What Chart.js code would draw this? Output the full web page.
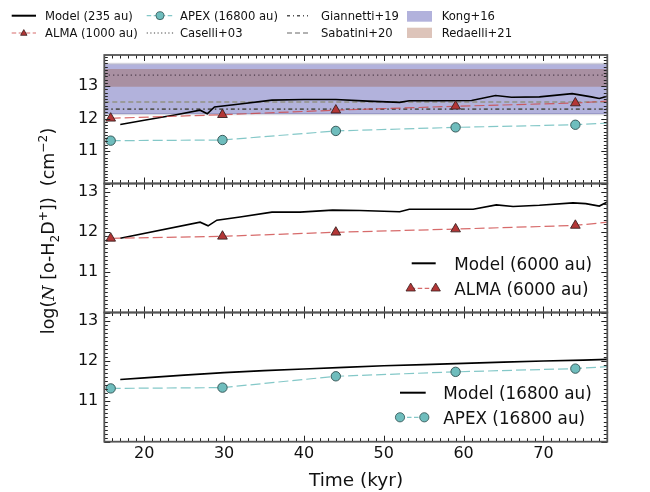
<!DOCTYPE html>
<html>
<head>
<meta charset="utf-8">
<script src="https://cdn.jsdelivr.net/npm/chart.js@4.4.1/dist/chart.umd.min.js"></script>
<style>
  html, body { margin: 0; padding: 0; background: #fff; }
  body { width: 650px; height: 492px; overflow: hidden; position: relative; font-family: "DejaVu Sans", sans-serif; color: #111; }
  canvas.cv { position: absolute; left: 0; top: 0; width: 650px; height: 492px; }
  .t { position: absolute; white-space: nowrap; }
  .lg { font-size: 11.6px; line-height: 14px; }
  .lg2 { font-size: 16.8px; line-height: 20px; }
  svg.ov { position: absolute; left: 0; top: 0; pointer-events: none; }
</style>
</head>
<body>
<canvas id="c1" class="cv" width="650" height="492"></canvas>
<canvas id="c2" class="cv" width="650" height="492"></canvas>
<canvas id="c3" class="cv" width="650" height="492"></canvas>

<svg class="ov" width="650" height="492" xmlns="http://www.w3.org/2000/svg">
  <!-- top legend samples -->
  <line x1="11.7" y1="15.7" x2="36" y2="15.7" stroke="#000" stroke-width="2"/>
  <line x1="11.7" y1="33" x2="36" y2="33" stroke="rgba(205,70,70,0.8)" stroke-width="1.2" stroke-dasharray="4.5,2.5"/>
  <polygon points="23.8,29.6 20.6,35.3 27,35.3" fill="#b33636" stroke="#3a2020" stroke-width="0.8"/>
  <line x1="146.7" y1="15.7" x2="173.3" y2="15.7" stroke="rgba(110,190,190,0.85)" stroke-width="1.2" stroke-dasharray="4.5,2.5"/>
  <circle cx="160" cy="15.7" r="4" fill="#6fbdbd" stroke="#2f4f4f" stroke-width="0.8"/>
  <line x1="146.7" y1="33" x2="173.3" y2="33" stroke="#444" stroke-width="1.2" stroke-dasharray="1.2,2.4"/>
  <line x1="287" y1="15.7" x2="308" y2="15.7" stroke="#555" stroke-width="1.5" stroke-dasharray="3,3,1,3"/>
  <line x1="287" y1="33" x2="308" y2="33" stroke="#999" stroke-width="1.6" stroke-dasharray="5,3"/>
  <rect x="407" y="11" width="25" height="10.7" fill="rgba(0,0,139,0.3)"/>
  <rect x="407" y="27.7" width="25" height="10.3" fill="rgba(150,70,40,0.32)"/>
  <!-- middle legend samples -->
  <line x1="411.7" y1="263.3" x2="435.7" y2="263.3" stroke="#000" stroke-width="2"/>
  <line x1="410.7" y1="288.3" x2="435.7" y2="288.3" stroke="rgba(205,70,70,0.8)" stroke-width="1.2" stroke-dasharray="4.5,2.5"/>
  <polygon points="410.7,283 406,291 415.4,291" fill="#b33636" stroke="#3a2020" stroke-width="0.8"/>
  <polygon points="435.7,283 431,291 440.4,291" fill="#b33636" stroke="#3a2020" stroke-width="0.8"/>
  <!-- bottom legend samples -->
  <line x1="400" y1="392.7" x2="425.7" y2="392.7" stroke="#000" stroke-width="2"/>
  <line x1="400" y1="417.3" x2="424.3" y2="417.3" stroke="rgba(110,190,190,0.85)" stroke-width="1.2" stroke-dasharray="4.5,2.5"/>
  <circle cx="400" cy="417.3" r="4.6" fill="#6fbdbd" stroke="#2f4f4f" stroke-width="0.8"/>
  <circle cx="424.3" cy="417.3" r="4.6" fill="#6fbdbd" stroke="#2f4f4f" stroke-width="0.8"/>
</svg>

<!-- top legend texts -->
<div class="t lg" style="left:45px; top:8.9px;">Model (235 au)</div>
<div class="t lg" style="left:45px; top:26.2px;">ALMA (1000 au)</div>
<div class="t lg" style="left:180px; top:8.9px;">APEX (16800 au)</div>
<div class="t lg" style="left:180px; top:26.2px;">Caselli+03</div>
<div class="t lg" style="left:321px; top:8.9px;">Giannetti+19</div>
<div class="t lg" style="left:321px; top:26.2px;">Sabatini+20</div>
<div class="t lg" style="left:441.7px; top:8.9px;">Kong+16</div>
<div class="t lg" style="left:441.7px; top:26.2px;">Redaelli+21</div>

<!-- inner legends -->
<div class="t lg2" style="left:454.3px; top:253.8px;">Model (6000 au)</div>
<div class="t lg2" style="left:454.3px; top:278.6px;">ALMA (6000 au)</div>
<div class="t lg2" style="left:443.3px; top:383px;">Model (16800 au)</div>
<div class="t lg2" style="left:443.3px; top:407.6px;">APEX (16800 au)</div>

<!-- axis titles -->
<div class="t" style="left:356px; top:469.3px; transform:translateX(-50%); font-size:18.5px; line-height:22px;">Time (kyr)</div>
<div class="t" style="left:49px; top:231px; transform:translate(-50%,-50%) rotate(-90deg); font-size:17.5px; line-height:22px;">log(<i style="font-family:'DejaVu Serif',serif;">N</i> [o-H<sub style="font-size:0.7em;">2</sub>D<sup style="font-size:0.7em;">+</sup>])&nbsp;&nbsp;(cm<sup style="font-size:0.7em;">−2</sup>)</div>

<script>
// ---------------- data ----------------
const xMin = 15, xMax = 78;
const xTicks = [20, 30, 40, 50, 60, 70];
const yTicks = [11, 12, 13];
const yRangeTop = [10, 13.96];
const yRangeLower = [10, 13.2];

const obsTimes = [15.8, 29.8, 44.0, 59.0, 74.0];
const fitEndTime = 78;
const alma1000 = [12.01, 12.12, 12.26, 12.38, 12.48];
const alma1000End = 12.54;
const alma6000 = [11.84, 11.89, 11.99, 12.07, 12.16];
const alma6000End = 12.24;
const apex16800 = [11.32, 11.34, 11.62, 11.73, 11.81];
const apex16800End = 11.86;

const model235Times = [17, 20, 24, 27, 27.9, 28.8, 32, 36, 40, 44, 48, 52, 53.2, 57, 61, 64, 66, 69.5, 73.6, 76, 77, 78];
const model235 = [11.82, 11.95, 12.12, 12.26, 12.15, 12.36, 12.45, 12.57, 12.59, 12.59, 12.54, 12.50, 12.55, 12.55, 12.56, 12.71, 12.66, 12.67, 12.77, 12.67, 12.62, 12.69];

const model6000Times = [17, 27, 28, 29.1, 32, 36, 39.5, 43.6, 47, 52, 53.2, 57, 61.2, 64.1, 66.2, 69.5, 73.7, 75.3, 77, 78];
const model6000 = [11.84, 12.24, 12.15, 12.29, 12.37, 12.49, 12.49, 12.54, 12.53, 12.50, 12.56, 12.56, 12.56, 12.67, 12.63, 12.66, 12.72, 12.70, 12.64, 12.74];

const model16800Times = [17, 20, 25, 30, 35, 40, 45, 50, 55, 60, 65, 70, 75, 78];
const model16800 = [11.54, 11.58, 11.65, 11.71, 11.76, 11.80, 11.84, 11.88, 11.91, 11.94, 11.97, 12.00, 12.02, 12.04];

const caselli03 = 13.34;
const sabatini20 = 12.51;
const giannetti19 = 12.29;
const kong16 = [12.14, 13.69];
const redaelli21 = [12.98, 13.53];

// ---------------- helpers ----------------
Chart.defaults.font.family = "'DejaVu Sans', sans-serif";
Chart.defaults.font.size = 16;
Chart.defaults.color = '#111';

const xy = (ts, vs) => ts.map((t, i) => ({ x: t, y: vs[i] }));
const hline = v => [{ x: xMin, y: v }, { x: xMax, y: v }];

const ALMA = { line: 'rgba(205,70,70,0.8)', fill: '#b33636', edge: '#3a2020', marker: 'triangle', r: 5.6 };
const APEX = { line: 'rgba(110,190,190,0.85)', fill: '#6fbdbd', edge: '#2f4f4f', marker: 'circle', r: 4.7 };

function obsSet(vals, end, st, order) {
  const n = vals.length;
  return {
    data: xy(obsTimes, vals).concat([{ x: fitEndTime, y: end }]),
    borderColor: st.line, borderWidth: 1.2, borderDash: [10, 4],
    pointStyle: st.marker,
    pointRadius: c => (c.dataIndex < n ? st.r : 0),
    pointBackgroundColor: st.fill, pointBorderColor: st.edge, pointBorderWidth: 0.9,
    fill: false, tension: 0, order
  };
}
function modelSet(ts, vs, order) {
  return { data: xy(ts, vs), borderColor: '#000', borderWidth: 1.6, pointRadius: 0, fill: false, tension: 0, order };
}
function refLine(v, color, dash, w, order) {
  return { data: hline(v), borderColor: color, borderDash: dash, borderWidth: w, pointRadius: 0, fill: false, order };
}

const frameTicks = {
  id: 'frameTicks',
  afterDraw(chart) {
    const { ctx, chartArea: a } = chart;
    const x = chart.scales.x, y = chart.scales.y;
    ctx.save();
    ctx.strokeStyle = '#222';
    ctx.lineWidth = 1;
    ctx.beginPath();
    for (let t = xMin; t <= xMax; t += 1) {
      const px = Math.round(x.getPixelForValue(t)) + 0.5;
      const L = xTicks.includes(t) ? 6 : 3.5;
      ctx.moveTo(px, a.bottom); ctx.lineTo(px, a.bottom - L);
      ctx.moveTo(px, a.top); ctx.lineTo(px, a.top + L);
    }
    for (let k = Math.ceil(y.min * 10); k <= Math.floor(y.max * 10); k++) {
      const py = Math.round(y.getPixelForValue(k / 10)) + 0.5;
      const L = (k % 10 === 0) ? 6 : 3.5;
      ctx.moveTo(a.left, py); ctx.lineTo(a.left + L, py);
      ctx.moveTo(a.right, py); ctx.lineTo(a.right - L, py);
    }
    ctx.stroke();
    ctx.strokeStyle = '#555';
    ctx.lineWidth = 1.8;
    ctx.strokeRect(a.left, a.top, a.right - a.left, a.bottom - a.top);
    ctx.restore();
  }
};

function makeChart(id, datasets, yRange, padTop, padBottom, showX) {
  return new Chart(document.getElementById(id), {
    type: 'line',
    data: { datasets },
    options: {
      responsive: false, animation: false, devicePixelRatio: 1, events: [],
      layout: { padding: { left: 0, right: 650 - 607.3, top: padTop, bottom: padBottom } },
      plugins: { legend: { display: false }, tooltip: { enabled: false } },
      scales: {
        x: {
          type: 'linear', min: xMin, max: xMax, display: showX,
          grid: { display: false, drawTicks: false }, border: { display: false },
          afterBuildTicks: s => { s.ticks = xTicks.map(v => ({ value: v })); },
          afterFit: s => { s.height = showX ? 50.3 : 0; },
          ticks: { padding: 3, maxRotation: 0, font: { size: 16 } }
        },
        y: {
          type: 'linear', min: yRange[0], max: yRange[1],
          grid: { display: false, drawTicks: false }, border: { display: false },
          afterBuildTicks: s => { s.ticks = yTicks.map(v => ({ value: v })); },
          afterFit: s => { s.width = 104.3; },
          ticks: { padding: 6, font: { size: 16 } }
        }
      }
    },
    plugins: [frameTicks]
  });
}

// top panel
makeChart('c1', [
  obsSet(alma1000, alma1000End, ALMA, 1),
  obsSet(apex16800, apex16800End, APEX, 2),
  modelSet(model235Times, model235, 3),
  refLine(giannetti19, '#555', [4, 3, 1.5, 3], 1.8, 4),
  refLine(sabatini20, '#9a9a9a', [5, 3], 2, 5),
  refLine(caselli03, '#4a3a4a', [1.2, 3.2], 1.4, 6),
  { data: hline(redaelli21[1]), borderWidth: 0, borderColor: 'rgba(0,0,0,0)', pointRadius: 0,
    fill: { value: redaelli21[0] }, backgroundColor: 'rgba(150,70,40,0.32)', order: 7 },
  { data: hline(kong16[1]), borderWidth: 2.2, borderColor: 'rgba(190,190,200,0.55)', pointRadius: 0,
    fill: { value: kong16[0] }, backgroundColor: 'rgba(0,0,139,0.3)', order: 8 },
  { data: hline(kong16[0]), borderWidth: 2.2, borderColor: 'rgba(190,190,200,0.55)', pointRadius: 0, fill: false, order: 9 }
], yRangeTop, 55, 492 - 183.5, false);

// middle panel
makeChart('c2', [
  obsSet(alma6000, alma6000End, ALMA, 1),
  modelSet(model6000Times, model6000, 2)
], yRangeLower, 183.5, 492 - 312.5, false);

// bottom panel
makeChart('c3', [
  obsSet(apex16800, apex16800End, APEX, 1),
  modelSet(model16800Times, model16800, 2)
], yRangeLower, 312.5, 0, true);
</script>
</body>
</html>
